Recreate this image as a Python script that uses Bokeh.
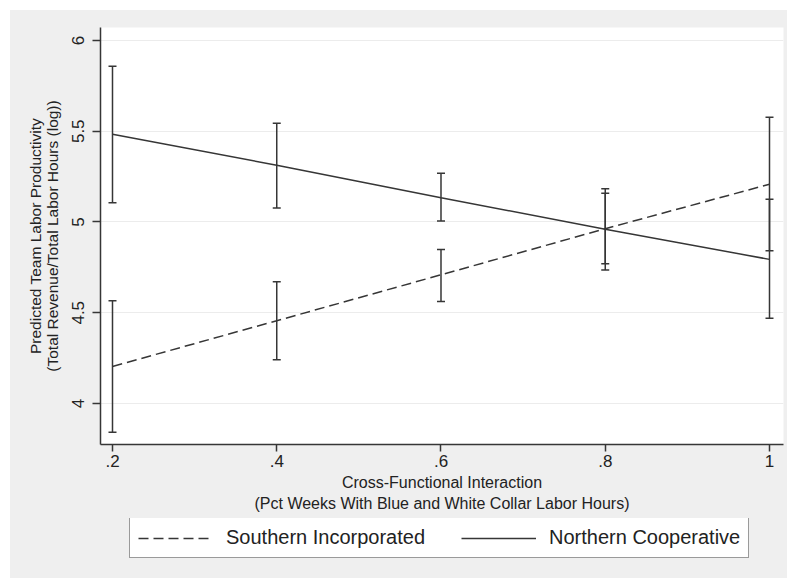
from bokeh.plotting import figure
from bokeh.layouts import column
from bokeh.models import (ColumnDataSource, Whisker, TeeHead, Legend, LegendItem,
                          FixedTicker, Range1d)
from bokeh.embed import file_html
from bokeh.resources import INLINE

# ---- data ----
x_vals = [0.2, 0.4, 0.6, 0.8, 1.0]
x_ticklabels = [".2", ".4", ".6", ".8", "1"]
y_ticks = [4, 4.5, 5, 5.5, 6]
y_ticklabels = ["4", "4.5", "5", "5.5", "6"]

southern = [4.204, 4.456, 4.709, 4.963, 5.208]
southern_lo = [3.842, 4.241, 4.562, 4.770, 4.842]
southern_hi = [4.566, 4.671, 4.849, 5.158, 5.125]

northern = [5.483, 5.313, 5.134, 4.960, 4.794]
northern_lo = [5.106, 5.077, 5.005, 4.736, 4.469]
northern_hi = [5.858, 5.544, 5.268, 5.183, 5.577]

series_names = ["Southern Incorporated", "Northern Cooperative"]

FONT = "Liberation Sans"
INK = "#363636"
TXT = "#222222"
BG = "#efefef"

p = figure(frame_width=683, frame_height=417, output_backend="svg", toolbar_location=None,
           x_range=Range1d(0.18539, 1.01705), y_range=Range1d(3.774, 6.0716),
           min_border_left=90, min_border_right=4, min_border_top=17,
           min_border_bottom=74)
p.border_fill_color = BG
p.background_fill_color = "white"
p.outline_line_color = None

src_s = ColumnDataSource(dict(x=x_vals, y=southern, lo=southern_lo, hi=southern_hi))
src_n = ColumnDataSource(dict(x=x_vals, y=northern, lo=northern_lo, hi=northern_hi))

for src in (src_s, src_n):
    w = Whisker(base="x", lower="lo", upper="hi", source=src,
                line_color=INK, line_width=1.5,
                upper_head=TeeHead(size=8, line_color=INK, line_width=1.5),
                lower_head=TeeHead(size=8, line_color=INK, line_width=1.5))
    p.add_layout(w)

r_s = p.line("x", "y", source=src_s, line_color=INK, line_width=1.5, line_dash="10 5")
r_n = p.line("x", "y", source=src_n, line_color=INK, line_width=1.5)

# axes
p.xaxis.ticker = FixedTicker(ticks=x_vals)
p.xaxis.major_label_overrides = {v: t for v, t in zip(x_vals, x_ticklabels)}
p.yaxis.ticker = FixedTicker(ticks=y_ticks)
p.yaxis.major_label_overrides = {v: t for v, t in zip(y_ticks, y_ticklabels)}
p.yaxis.major_label_orientation = "vertical"
p.xgrid.visible = False
p.ygrid.ticker = FixedTicker(ticks=y_ticks)
p.ygrid.grid_line_color = "#ececec"
p.ygrid.grid_line_width = 1

for ax in (p.xaxis, p.yaxis):
    ax.axis_line_color = INK
    ax.axis_line_width = 1.5
    ax.major_tick_line_color = INK
    ax.major_tick_line_width = 1.5
    ax.major_tick_in = 0
    ax.minor_tick_line_color = None
    ax.major_label_text_font = FONT
    ax.major_label_text_font_size = "17px"
    ax.major_label_text_color = TXT
    ax.axis_label_text_font = FONT
    ax.axis_label_text_font_style = "normal"
    ax.axis_label_text_color = TXT

p.xaxis.major_tick_out = 7
p.xaxis.major_label_standoff = 3
p.xaxis.axis_label = "Cross-Functional Interaction\n(Pct Weeks With Blue and White Collar Labor Hours)"
p.xaxis.axis_label_text_font_size = "16px"
p.xaxis.axis_label_text_line_height = 1.25
p.xaxis.axis_label_standoff = 4

p.yaxis.major_tick_out = 8
p.yaxis.major_label_standoff = 8
p.yaxis.axis_label = "Predicted Team Labor Productivity\n(Total Revenue/Total Labor Hours (log))"
p.yaxis.axis_label_text_font_size = "15.5px"
p.yaxis.axis_label_text_line_height = 0.97
p.yaxis.axis_label_standoff = 9

# legend strip below the chart (same data sources, kept out of view)
lg = figure(frame_width=683, frame_height=60, output_backend="svg", toolbar_location=None,
            x_range=Range1d(10, 11), y_range=Range1d(10, 11),
            x_axis_type=None, y_axis_type=None,
            min_border_left=90, min_border_right=4, min_border_top=0, min_border_bottom=0)
lg.grid.visible = False
lg.outline_line_color = None
lg.background_fill_color = BG
lg.border_fill_color = BG
lr_s = lg.line("x", "y", source=src_s, line_color=INK, line_width=1.5, line_dash="10 5")
lr_n = lg.line("x", "y", source=src_n, line_color=INK, line_width=1.5)

legend = Legend(items=[LegendItem(label=series_names[0], renderers=[lr_s]),
                       LegendItem(label=series_names[1], renderers=[lr_n])],
                orientation="horizontal", location=(29, 20),
                border_line_color=INK, border_line_width=1.5,
                background_fill_color="white", background_fill_alpha=1.0,
                label_text_font=FONT, label_text_font_size="20px",
                label_text_color=TXT,
                glyph_width=75, glyph_height=20, label_height=20,
                label_standoff=13, spacing=36, padding=8, margin=0)
lg.add_layout(legend)

layout = column(p, lg, spacing=0)
layout.margin = (10, 0, 0, 10)
layout.styles = {"background-color": BG}

open("out.html", "w").write(file_html(layout, INLINE))
